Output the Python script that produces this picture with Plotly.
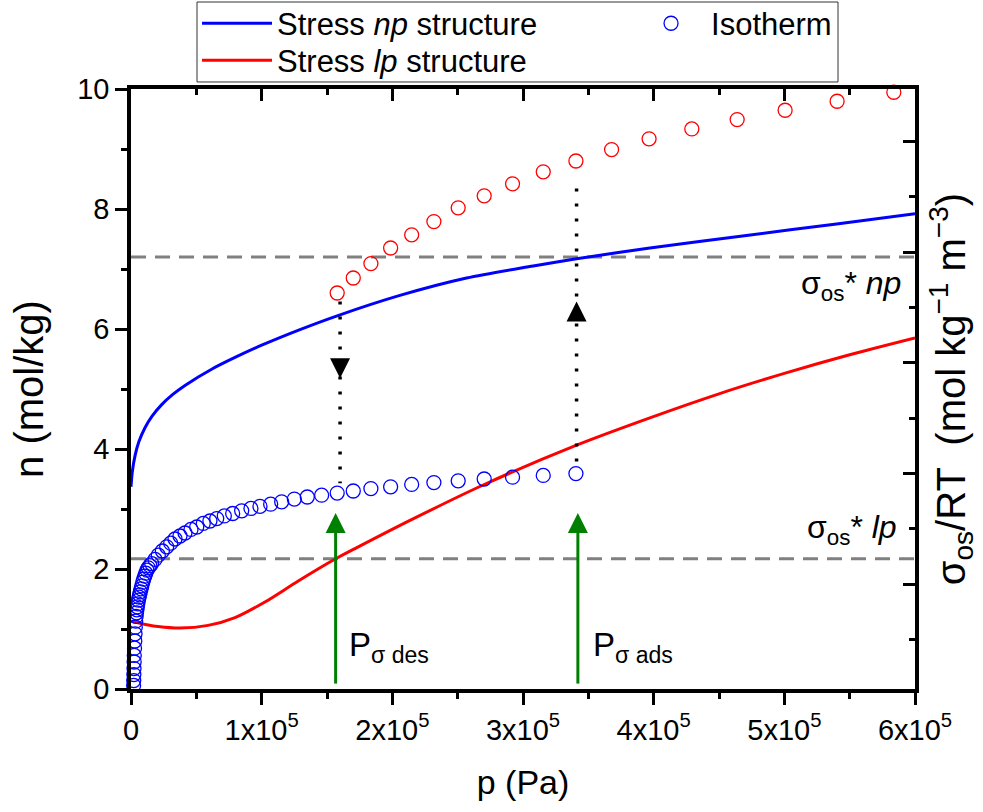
import plotly.graph_objects as go

# ---------------- data ----------------
# Isotherm, low branch (blue circles)
iso_low_p = [2000, 2100, 2200, 2300, 2400, 2500, 2700, 2900, 3100, 3300, 3600, 3900, 4200,
             4500, 4800, 5200, 5700, 6100, 6600, 7100, 7700, 8300, 9000, 9700, 10500, 11300,
             12200, 13200, 14500, 15800, 18400, 20900, 24000, 27300, 30400, 33700, 37500,
             41300, 45900, 50300, 55300, 60400, 65600, 71400, 77800, 84700, 91800, 98700,
             106900, 115300, 125000, 134900, 145900, 157800, 170100, 183600, 198700, 214800,
             231800, 250400, 270300, 292000, 315500, 340500]
iso_low_n = [0.06, 0.14, 0.24, 0.34, 0.45, 0.56, 0.68, 0.80, 0.92, 1.03, 1.13, 1.21, 1.27,
             1.32, 1.37, 1.42, 1.48, 1.53, 1.57, 1.62, 1.67, 1.72, 1.78, 1.83, 1.88, 1.93,
             1.98, 2.02, 2.055, 2.09, 2.16, 2.23, 2.30, 2.37, 2.43, 2.50, 2.55,
             2.60, 2.66, 2.70, 2.76, 2.80, 2.84, 2.885, 2.925, 2.97, 3.01, 3.045,
             3.08, 3.12, 3.165, 3.20, 3.23, 3.265, 3.30, 3.34, 3.37, 3.41,
             3.44, 3.47, 3.50, 3.53, 3.56, 3.59]

# Isotherm, high branch (red circles)
iso_high_p = [157800, 170100, 183600, 198700, 214800, 231800, 250400, 270300, 292000,
              315500, 340500, 367800, 396500, 429200, 463900, 500600, 540400, 583800]
iso_high_n = [6.60, 6.85, 7.09, 7.35, 7.57, 7.79, 8.02, 8.22, 8.42,
              8.62, 8.80, 8.99, 9.17, 9.335, 9.49, 9.646, 9.796, 9.946]

# Stress curves
np_p = [0, 1000, 3100, 6000, 10700, 16000, 23500, 32000, 41300, 61700, 80000, 100000,
        129300, 157800, 205800, 256800, 307800, 341000, 397100, 471000, 540000, 600000]
np_n = [3.37, 3.62, 3.89, 4.12, 4.355, 4.545, 4.74, 4.91, 5.06, 5.33, 5.53, 5.73,
        5.99, 6.22, 6.56, 6.85, 7.05, 7.17, 7.35, 7.56, 7.75, 7.92]

lp_p = [0, 10000, 20900, 37500, 59000, 79600, 102500, 128000, 156600, 171400, 213500,
        269500, 341000, 397100, 450000, 500000, 550000, 600000]
lp_n = [1.13, 1.08, 1.04, 1.015, 1.06, 1.19, 1.45, 1.80, 2.17, 2.34, 2.81,
        3.40, 4.065, 4.52, 4.92, 5.26, 5.57, 5.85]

# sigma* levels (dashed)
sigma_np_level = 7.20
sigma_lp_level = 2.17

# transitions (dotted black arrows)
des_p = 160000
des_from, des_to, des_tip = 6.46, 3.43, 5.18
ads_p = 341000
ads_from, ads_to, ads_tip = 3.79, 8.54, 6.46

# pressure markers (green arrows)
p_des = 156600
p_ads = 342000
green_base, green_tip = 0.09, 2.935

x_ticks = [0, 1e5, 2e5, 3e5, 4e5, 5e5, 6e5]
x_ticktext = ["0", "1x10<sup>5</sup>", "2x10<sup>5</sup>", "3x10<sup>5</sup>",
              "4x10<sup>5</sup>", "5x10<sup>5</sup>", "6x10<sup>5</sup>"]
y_ticks = [0, 2, 4, 6, 8, 10]

FONT = "Liberation Sans, Arial, sans-serif"
X_RANGE = [0, 6e5]
Y_RANGE = [0, 10]

fig = go.Figure()

# dashed sigma lines
for lvl in (sigma_np_level, sigma_lp_level):
    fig.add_trace(go.Scatter(x=X_RANGE, y=[lvl, lvl], mode="lines", showlegend=False,
                             line=dict(color="#808080", width=3, dash="15px,9px"),
                             hoverinfo="skip"))

fig.add_trace(go.Scatter(x=np_p, y=np_n, mode="lines", name="Stress <i>np</i> structure",
                         line=dict(color="#0000ff", width=3, shape="spline", smoothing=0.8),
                         legend="legend"))
fig.add_trace(go.Scatter(x=lp_p, y=lp_n, mode="lines", name="Stress <i>lp</i> structure",
                         line=dict(color="#ff0000", width=3, shape="spline", smoothing=0.8),
                         legend="legend3"))
fig.add_trace(go.Scatter(x=iso_low_p, y=iso_low_n, mode="markers", name="Isotherm",
                         marker=dict(symbol="circle-open", size=14, color="#0000ff",
                                     line=dict(width=1.3)),
                         cliponaxis=False, legend="legend2"))
fig.add_trace(go.Scatter(x=iso_high_p, y=iso_high_n, mode="markers", showlegend=False,
                         marker=dict(symbol="circle-open", size=14, color="#ff0000",
                                     line=dict(width=1.3)),
                         cliponaxis=False))

# dotted black transitions
for px, a, b in ((des_p, des_from, des_to), (ads_p, ads_from, ads_to)):
    fig.add_trace(go.Scatter(x=[px, px], y=[a, b], mode="lines", showlegend=False,
                             line=dict(color="black", width=3.5, dash="3px,12px")))
fig.add_trace(go.Scatter(x=[des_p], y=[des_tip], mode="markers", showlegend=False,
                         marker=dict(symbol="arrow-down", size=20, color="black")))
fig.add_trace(go.Scatter(x=[ads_p], y=[ads_tip], mode="markers", showlegend=False,
                         marker=dict(symbol="arrow-up", size=20, color="black")))

# green arrows
for px in (p_des, p_ads):
    fig.add_trace(go.Scatter(x=[px, px], y=[green_base, green_tip - 0.3], mode="lines",
                             showlegend=False, line=dict(color="#008000", width=3)))
    fig.add_trace(go.Scatter(x=[px], y=[green_tip], mode="markers", showlegend=False,
                             marker=dict(symbol="arrow-up", size=20, color="#008000")))

axis_common = dict(showline=True, linewidth=3.5, linecolor="black", showgrid=False,
                   zeroline=False, tickwidth=3, tickcolor="black",
                   tickfont=dict(family=FONT, size=29, color="black"))

legend_common = dict(xanchor="left", yanchor="top", orientation="v",
                     bgcolor="rgba(0,0,0,0)", borderwidth=0, itemwidth=70,
                     font=dict(family=FONT, size=31, color="black"))

fig.update_layout(
    width=983, height=812,
    margin=dict(l=131, r=68, t=89, b=123, autoexpand=False),
    plot_bgcolor="white", paper_bgcolor="white",
    font=dict(family=FONT, color="black"),
    xaxis=dict(range=X_RANGE, tickmode="array", tickvals=x_ticks, ticktext=x_ticktext,
               ticks="outside", ticklen=12,
               minor=dict(dtick=5e4, tick0=0, ticks="outside", ticklen=6.5, tickwidth=3,
                          tickcolor="black"),
               title=dict(text="p (Pa)", font=dict(family=FONT, size=34), standoff=27),
               **axis_common),
    yaxis=dict(range=Y_RANGE, tickmode="array", tickvals=y_ticks,
               ticks="outside", ticklen=12,
               minor=dict(dtick=1, tick0=0, ticks="outside", ticklen=6.5, tickwidth=3,
                          tickcolor="black"),
               title=dict(text="n (mol/kg)", font=dict(family=FONT, size=40), standoff=22),
               **axis_common),
    xaxis2=dict(range=X_RANGE, overlaying="x", side="top", anchor="y",
                tickmode="array", tickvals=x_ticks, showticklabels=False,
                ticks="inside", ticklen=12,
                minor=dict(dtick=5e4, tick0=0, ticks="inside", ticklen=6.5, tickwidth=3,
                           tickcolor="black"),
                **axis_common),
    yaxis2=dict(range=[0.054, 5.475], overlaying="y", side="right", anchor="x",
                dtick=1, tick0=0, showticklabels=False,
                ticks="inside", ticklen=12,
                minor=dict(dtick=0.5, tick0=0, ticks="inside", ticklen=6.5, tickwidth=3,
                           tickcolor="black"),
                title=dict(text="σ<sub>os</sub>/RT  (mol kg<sup>−1</sup> m<sup>−3</sup>)",
                           font=dict(family=FONT, size=40), standoff=20),
                **axis_common),
    legend=dict(x=0.0842, y=1.154, **legend_common),
    legend3=dict(x=0.0842, y=1.0923, **legend_common),
    legend2=dict(x=0.6378, y=1.154, **legend_common),
    shapes=[dict(type="rect", xref="paper", yref="paper", x0=0.0842, x1=0.9018,
                 y0=1.0117, y1=1.145, line=dict(color="#333333", width=1), layer="below")],
    annotations=[
        dict(x=590700, y=6.72, xref="x", yref="y", text="σ<sub>os</sub>* <i>np</i>",
             showarrow=False, xanchor="right", yanchor="middle",
             font=dict(family=FONT, size=32, color="black")),
        dict(x=588000, y=2.66, xref="x", yref="y", text="σ<sub>os</sub>* <i>lp</i>",
             showarrow=False, xanchor="right", yanchor="middle",
             font=dict(family=FONT, size=32, color="black")),
        dict(x=165000, y=0.70, xref="x", yref="y", text="P<sub>σ des</sub>",
             showarrow=False, xanchor="left", yanchor="middle",
             font=dict(family=FONT, size=33, color="black")),
        dict(x=352000, y=0.70, xref="x", yref="y", text="P<sub>σ ads</sub>",
             showarrow=False, xanchor="left", yanchor="middle",
             font=dict(family=FONT, size=33, color="black")),
    ],
)

# a hidden trace so the secondary axes are realised
fig.add_trace(go.Scatter(x=[None], y=[None], xaxis="x2", yaxis="y2", showlegend=False,
                         hoverinfo="skip"))

fig.write_html("out.html")
